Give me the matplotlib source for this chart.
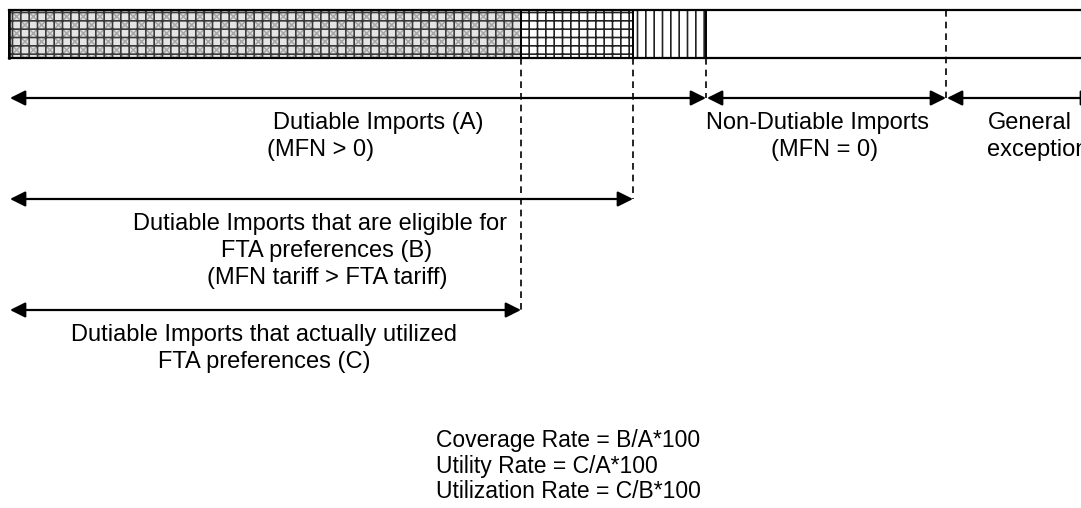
import numpy as np
import matplotlib
matplotlib.use("Agg")
from matplotlib import pyplot as plt
from matplotlib.patches import Rectangle

plt.rcParams['font.family'] = ['Liberation Sans', 'DejaVu Sans']
plt.rcParams['hatch.linewidth'] = 1.2

# import segments along the bar (arbitrary value units)
segment_names = ["FTA utilized", "FTA eligible, not utilized", "Dutiable, not eligible",
                 "Non-dutiable", "General exception"]
segment_values = [512, 112, 73, 240, 150]
segment_hatches = ["++", "++", "||", "", ""]

# arrow spans: (first segment index, last segment index)
span_labels = [
    ["Dutiable Imports (A)", "(MFN > 0)"],
    ["Non-Dutiable Imports", "(MFN = 0)"],
    ["General", "exception"],
    ["Dutiable Imports that are eligible for", "FTA preferences (B)", "(MFN tariff > FTA tariff)"],
    ["Dutiable Imports that actually utilized", "FTA preferences (C)"],
]
span_ranges = [(0, 2), (3, 3), (4, 4), (0, 1), (0, 0)]

formula_lines = ["Coverage Rate = B/A*100", "Utility Rate = C/A*100", "Utilization Rate = C/B*100"]

x0 = 9
edges = x0 + np.concatenate([[0], np.cumsum(segment_values)])

fig = plt.figure(figsize=(10.81, 5.08), dpi=100)
ax = fig.add_axes([0, 0, 1, 1])
ax.set_xlim(0, 1081)
ax.set_ylim(508, 0)
ax.axis('off')

bar_top, bar_bot = 10, 58
for i, h in enumerate(segment_hatches):
    left, right = edges[i], edges[i + 1]
    if i == 0:
        ax.add_patch(Rectangle((left, bar_top), right - left, bar_bot - bar_top,
                               facecolor='#e4e4e4', edgecolor='#a8a8a8', hatch='xx', lw=0))
        ax.add_patch(Rectangle((left, bar_top), right - left, bar_bot - bar_top,
                               fill=False, edgecolor='#3a3a3a', hatch='++', lw=0))
    elif h:
        ax.add_patch(Rectangle((left, bar_top), right - left, bar_bot - bar_top,
                               facecolor='white', edgecolor='#222222', hatch=h, lw=0))
    if i < 4:
        ax.plot([left, left], [bar_top, bar_bot], color='black', lw=1.4)
# bar outline
ax.plot([edges[0], edges[-1]], [bar_top, bar_top], color='black', lw=1.6)
ax.plot([edges[0], edges[-1]], [bar_bot, bar_bot], color='black', lw=1.6)
ax.plot([edges[0], edges[0]], [bar_top, bar_bot], color='black', lw=1.8)

row_y = [98, 98, 98, 199, 310]


def arrow(xa, xb, y):
    ax.annotate('', xy=(xb, y), xytext=(xa, y),
                arrowprops=dict(arrowstyle='<|-|>', color='black', lw=1.6,
                                mutation_scale=23, shrinkA=0, shrinkB=0),
                annotation_clip=False)


for (a, b), y in zip(span_ranges, row_y):
    arrow(edges[a] + 1, edges[b + 1], y)

# dashed guides
dash = dict(color='black', lw=1.2, linestyle=(0, (4, 3)))
ax.plot([edges[1], edges[1]], [bar_bot, row_y[4]], **dash)
ax.plot([edges[2], edges[2]], [bar_bot, row_y[3]], **dash)
ax.plot([edges[3], edges[3]], [bar_bot, row_y[0]], **dash)
ax.plot([edges[4], edges[4]], [bar_top, row_y[0]], **dash)

fs = 17
ax.text(273, 123, span_labels[0][0], fontsize=fs, va='center', ha='left')
ax.text(267, 150, span_labels[0][1], fontsize=fs, va='center', ha='left')
ax.text(706, 123, span_labels[1][0], fontsize=fs, va='center', ha='left')
ax.text(825, 150, span_labels[1][1], fontsize=fs, va='center', ha='center')
ax.text(988, 123, span_labels[2][0], fontsize=fs, va='center', ha='left')
ax.text(987, 150, span_labels[2][1], fontsize=fs, va='center', ha='left')
line_x = [320, 327, 327]
for k, line in enumerate(span_labels[3]):
    ax.text(line_x[k], 224 + 27 * k, line, fontsize=fs, va='center', ha='center')
for k, line in enumerate(span_labels[4]):
    ax.text(264, 335 + 27 * k, line, fontsize=fs, va='center', ha='center')
for k, line in enumerate(formula_lines):
    ax.text(436, 440 + 26 * k, line, fontsize=16.5, va='center', ha='left')

fig.savefig('out.png', dpi=100)
